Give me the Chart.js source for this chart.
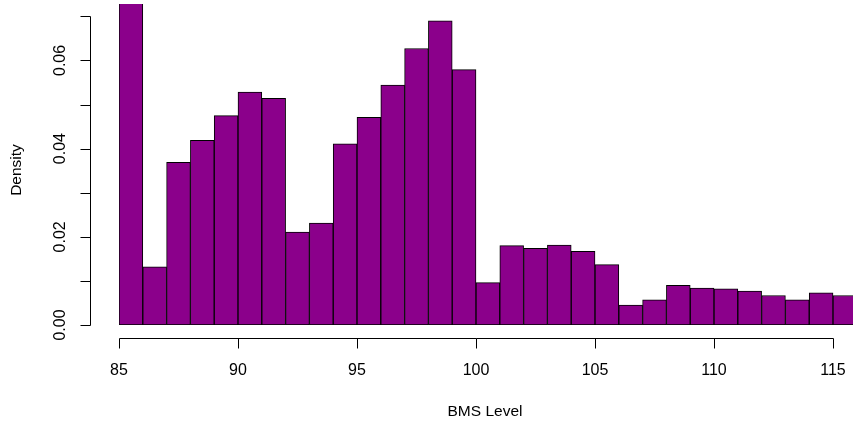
<!DOCTYPE html>
<html>
<head>
<meta charset="utf-8">
<script src="https://cdn.jsdelivr.net/npm/chart.js@4/dist/chart.umd.min.js"></script>
<style>
  html, body { margin: 0; padding: 0; background: #fff; }
  #wrap { width: 853px; height: 426px; }
</style>
</head>
<body>
<div id="wrap"><canvas id="c" width="853" height="426"></canvas></div>
<script>
// ---- data (histogram, bin width 1) ----
const binStarts = [85, 86, 87, 88, 89, 90, 91, 92, 93, 94, 95, 96, 97, 98, 99, 100,
                   101, 102, 103, 104, 105, 106, 107, 108, 109, 110, 111, 112, 113, 114, 115];
const densities = [0.0750, 0.0132, 0.0369, 0.0419, 0.0475, 0.0528, 0.0514, 0.0211, 0.0231, 0.0411,
                   0.0471, 0.0544, 0.0627, 0.0690, 0.0579, 0.0096, 0.0180, 0.0174, 0.0181, 0.0167,
                   0.0137, 0.0045, 0.0057, 0.0090, 0.0084, 0.0082, 0.0077, 0.0067, 0.0057, 0.0073, 0.0067];
const xTicks = [85, 90, 95, 100, 105, 110, 115];
const yTicks = [0, 0.01, 0.02, 0.03, 0.04, 0.05, 0.06, 0.07];
const yTickLabels = ["0.00", "", "0.02", "", "0.04", "", "0.06", ""];
const xTitle = "BMS Level";
const yTitle = "Density";

const binWidth = 1;
const points = binStarts.map((b, i) => ({ x: b + binWidth / 2, y: densities[i] }));

const FONT = '"Liberation Sans", Arial, Helvetica, sans-serif';

const rAxes = {
  id: 'rAxes',
  afterDraw(chart) {
    const ctx = chart.ctx;
    const xs = chart.scales.x, ys = chart.scales.y;
    const area = chart.chartArea;
    ctx.save();
    ctx.strokeStyle = '#000';
    ctx.fillStyle = '#000';
    ctx.lineWidth = 1;

    // x axis (offset below the plot, R style)
    const axY = Math.round(ys.getPixelForValue(0) + 13) + 0.5;
    const x0 = Math.round(xs.getPixelForValue(xTicks[0])) + 0.5;
    const x1 = Math.round(xs.getPixelForValue(xTicks[xTicks.length - 1])) + 0.5;
    ctx.beginPath();
    ctx.moveTo(x0, axY); ctx.lineTo(x1, axY);
    xTicks.forEach(t => {
      const px = Math.round(xs.getPixelForValue(t)) + 0.5;
      ctx.moveTo(px, axY); ctx.lineTo(px, axY + 10);
    });
    ctx.stroke();
    ctx.font = '16px ' + FONT;
    ctx.textAlign = 'center';
    ctx.textBaseline = 'middle';
    xTicks.forEach(t => {
      ctx.fillText(String(t), xs.getPixelForValue(t), axY + 32);
    });

    // y axis
    const axX = Math.round(xs.getPixelForValue(xTicks[0]) - 29) + 0.5;
    const yb = Math.round(ys.getPixelForValue(yTicks[0])) + 0.5;
    const yt = Math.round(ys.getPixelForValue(yTicks[yTicks.length - 1])) + 0.5;
    ctx.beginPath();
    ctx.moveTo(axX, yb); ctx.lineTo(axX, yt);
    yTicks.forEach(t => {
      const py = Math.round(ys.getPixelForValue(t)) + 0.5;
      ctx.moveTo(axX, py); ctx.lineTo(axX - 10, py);
    });
    ctx.stroke();
    yTicks.forEach((t, i) => {
      if (!yTickLabels[i]) return;
      ctx.save();
      ctx.translate(axX - 30, ys.getPixelForValue(t));
      ctx.rotate(-Math.PI / 2);
      ctx.fillText(yTickLabels[i], 0, 0);
      ctx.restore();
    });

    // titles
    ctx.font = '15.5px ' + FONT;
    ctx.fillText(xTitle, 485, 412);
    ctx.save();
    ctx.translate(17, 170);
    ctx.rotate(-Math.PI / 2);
    ctx.fillText(yTitle, 0, 0);
    ctx.restore();
    ctx.restore();
  }
};

new Chart(document.getElementById('c'), {
  type: 'bar',
  data: {
    datasets: [{
      data: points,
      backgroundColor: '#8B008B',
      borderColor: '#000000',
      borderWidth: 1,
      borderSkipped: false,
      barPercentage: 1.0,
      categoryPercentage: 1.0,
      grouped: false
    }]
  },
  options: {
    responsive: false,
    animation: false,
    devicePixelRatio: 1,
    layout: { padding: { left: 119, right: 0, top: 4, bottom: 101 } },
    plugins: { legend: { display: false }, tooltip: { enabled: false } },
    scales: {
      x: { type: 'linear', min: 85, max: 115.84, display: false, offset: false },
      y: { type: 'linear', min: 0, max: 0.0728, display: false }
    }
  },
  plugins: [rAxes]
});
</script>
</body>
</html>
